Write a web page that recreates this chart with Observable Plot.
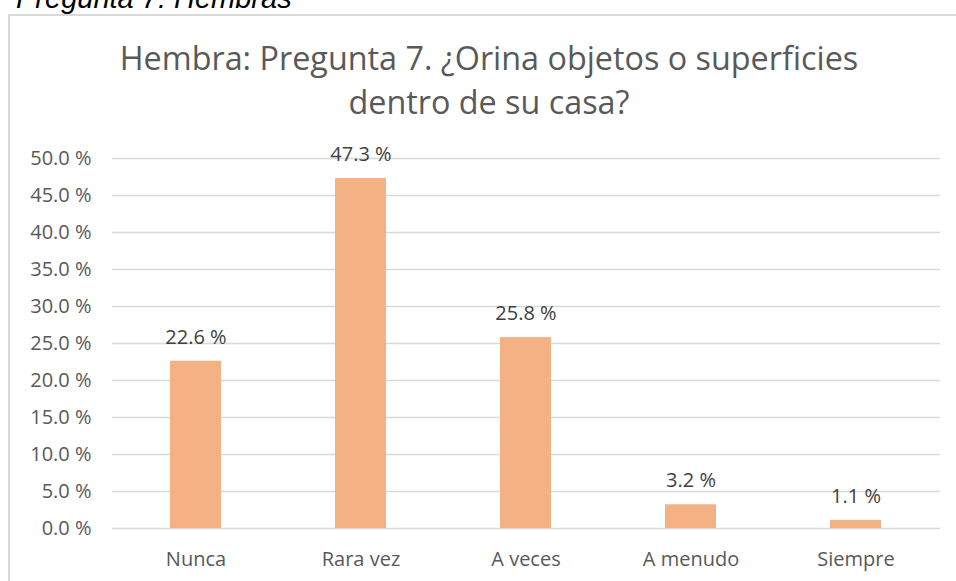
<!DOCTYPE html>
<html>
<head>
<meta charset="utf-8">
<script src="https://cdn.jsdelivr.net/npm/d3@7"></script>
<script src="https://cdn.jsdelivr.net/npm/@observablehq/plot@0.6"></script>
<style>
  html, body { margin: 0; padding: 0; background: #fff; }
  #page { position: relative; width: 956px; height: 581px; overflow: hidden; background: #fff; }
  #cap { position: absolute; left: 16px; top: -16px; font: italic 29px/29px "Liberation Sans", Arial, sans-serif; color: #000; white-space: nowrap; }
  #box { position: absolute; left: 8px; top: 14px; width: 962px; height: 620px; border: 2px solid #d9d9d9; box-sizing: border-box; }
  #title { position: absolute; left: 39px; width: 900px; top: 35px; text-align: center; font: 32.35px/44px "Open Sans", sans-serif; color: #595959; }
  #chart { position: absolute; left: 0; top: 130px; }
</style>
</head>
<body>
<div id="page">
  <div id="cap">Pregunta 7: Hembras</div>
  <div id="box"></div>
  <div id="title">Hembra: Pregunta 7. ¿Orina objetos o superficies<br>dentro de su casa?</div>
  <div id="chart"></div>
</div>
<script>
const categories = ["Nunca", "Rara vez", "A veces", "A menudo", "Siempre"];
const values = [22.6, 47.3, 25.8, 3.2, 1.1];
const yTicks = [0, 5, 10, 15, 20, 25, 30, 35, 40, 45, 50];

const data = categories.map((c, i) => ({category: c, value: values[i]}));
const fmt = v => v.toFixed(1) + " %";

const plot = Plot.plot({
  width: 956,
  height: 451,
  marginLeft: 112,
  marginRight: 16,
  marginTop: 28,
  marginBottom: 53,
  style: {fontFamily: "'Open Sans', sans-serif", fontSize: "20px", color: "#595959", background: "transparent", overflow: "visible"},
  x: {domain: categories, paddingInner: 0.69, paddingOuter: 0.345, label: null},
  y: {domain: [0, 50], label: null},
  marks: [
    Plot.ruleY(yTicks, {stroke: "#d9d9d9", strokeWidth: 1.6}),
    Plot.barY(data, {x: "category", y: "value", fill: "#F4B183"}),
    Plot.text(data, {x: "category", y: "value", text: d => fmt(d.value), dy: -24, fill: "#404040", fontSize: 20}),
    Plot.axisY({ticks: yTicks, tickSize: 0, tickPadding: 21, tickFormat: fmt, fontSize: 20, label: null}),
    Plot.axisX({tickSize: 0, tickPadding: 23, fontSize: 20, label: null})
  ]
});
document.getElementById("chart").appendChild(plot);
</script>
</body>
</html>
